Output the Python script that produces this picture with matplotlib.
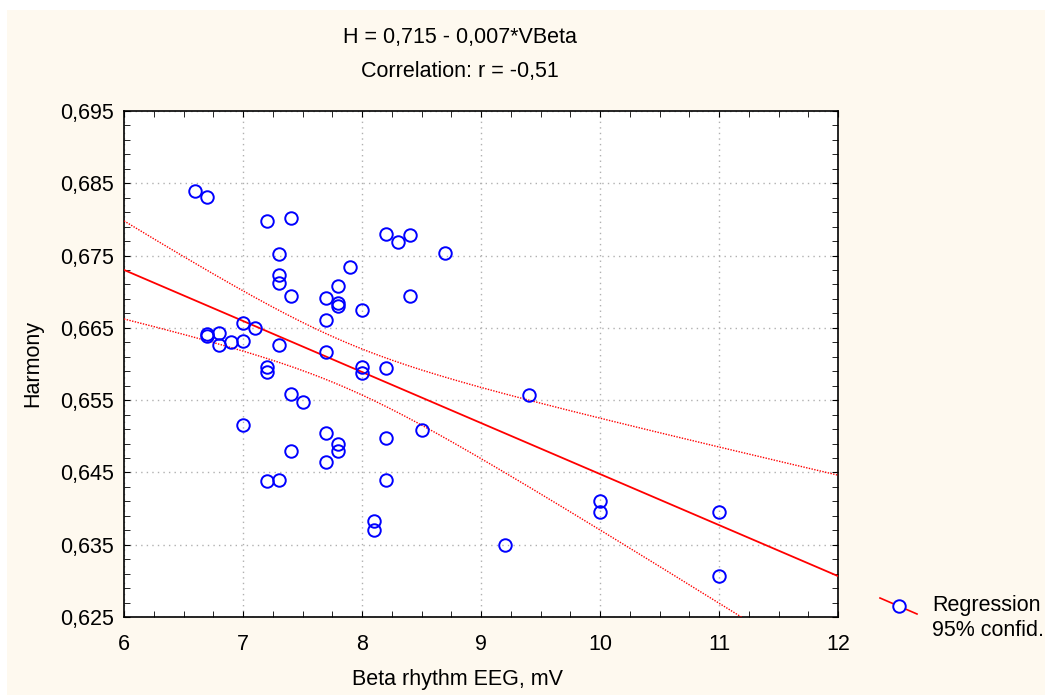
import numpy as np
import matplotlib
matplotlib.use("Agg")
import matplotlib.pyplot as plt
from matplotlib.ticker import MultipleLocator, FuncFormatter
from matplotlib.lines import Line2D
from matplotlib.patches import Rectangle

plt.rcParams['font.family'] = ['Liberation Sans', 'DejaVu Sans']

# ---- data ----
beta = [6.6, 6.7, 7.2, 7.4, 7.3, 7.3, 7.3, 7.4, 7.7, 7.8, 7.8, 7.8, 7.9, 8.0, 7.7,
        8.2, 8.3, 8.4, 8.7, 8.4, 6.7, 6.7, 6.8, 6.8, 6.9, 7.0, 7.0, 7.1, 7.2, 7.2,
        7.3, 7.7, 8.0, 8.0, 8.2, 7.4, 7.5, 9.4, 7.0, 7.7, 7.8, 7.8, 7.4, 7.7, 8.2,
        8.5, 7.2, 7.3, 8.2, 8.1, 8.1, 9.2, 10.0, 10.0, 11.0, 11.0]
harmony = [0.6840, 0.6831, 0.6798, 0.6802, 0.6752, 0.6723, 0.6712, 0.6694, 0.6691,
           0.6708, 0.6684, 0.6680, 0.6734, 0.6675, 0.6661, 0.6780, 0.6769, 0.6778,
           0.6754, 0.6694, 0.6642, 0.6639, 0.6643, 0.6626, 0.6630, 0.6632, 0.6657,
           0.6650, 0.6596, 0.6589, 0.6626, 0.6617, 0.6596, 0.6588, 0.6594, 0.6559,
           0.6547, 0.6557, 0.6516, 0.6505, 0.6489, 0.6480, 0.6480, 0.6464, 0.6498,
           0.6509, 0.6438, 0.6440, 0.6440, 0.6383, 0.6370, 0.6350, 0.6410, 0.6395,
           0.6395, 0.6307]

title_lines = ["H = 0,715 - 0,007*VBeta", "Correlation: r = -0,51"]

x = np.array(beta)
y = np.array(harmony)

# ---- regression + 95% confidence band ----
slope, intercept = np.polyfit(x, y, 1)
n = len(x)
resid = y - (intercept + slope * x)
s = np.sqrt(np.sum(resid ** 2) / (n - 2))
sxx = np.sum((x - x.mean()) ** 2)
t_crit = 2.005  # t(0.975, df ~ 54)

xs = np.linspace(6, 12, 200)
fit = intercept + slope * xs
half = t_crit * s * np.sqrt(1.0 / n + (xs - x.mean()) ** 2 / sxx)

FS = 15.5

fig = plt.figure(figsize=(10.45, 6.95), dpi=100)
fig.patch.set_facecolor('white')
fig.patches.append(Rectangle((7 / 1045, 0), 1 - 7 / 1045, 1 - 10 / 695,
                             transform=fig.transFigure, facecolor='#fef9ef',
                             edgecolor='none', zorder=-1))

ax = fig.add_axes([124 / 1045, 1 - 617 / 695, 714 / 1045, 506 / 695])
ax.set_facecolor('white')

ax.plot(xs, fit, color='red', lw=1.3, zorder=3)
ax.plot(xs, fit + half, color='red', lw=1.0, ls=(0, (1, 1)), zorder=3)
ax.plot(xs, fit - half, color='red', lw=1.0, ls=(0, (1, 1)), zorder=3)
ax.plot(x, y, 'o', ms=9, mfc='none', mec='#0000ff', mew=1.4, zorder=4)

ax.set_xlim(6, 12)
ax.set_ylim(0.625, 0.695)
ax.xaxis.set_major_locator(MultipleLocator(1))
ax.xaxis.set_minor_locator(MultipleLocator(0.25))
ax.yaxis.set_major_locator(MultipleLocator(0.01, offset=0.005))
ax.yaxis.set_minor_locator(MultipleLocator(0.002, offset=0.001))
ax.yaxis.set_major_formatter(FuncFormatter(lambda v, p: f"{v:.3f}".replace('.', ',')))
ax.xaxis.set_major_formatter(FuncFormatter(lambda v, p: f"{v:g}"))

ax.tick_params(which='both', direction='in', top=True, right=True,
               labelsize=FS, color='black', pad=7)
ax.tick_params(axis='x', which='major', pad=12)
ax.tick_params(which='major', length=4)
ax.tick_params(which='minor', length=4)
ax.grid(True, which='major', color='#b0b0b0', ls=(0, (1, 3)), lw=1.0)
for sp in ax.spines.values():
    sp.set_linewidth(1.2)

ax.set_xlabel("Beta rhythm EEG, mV", fontsize=FS)
ax.xaxis.set_label_coords((458 - 124) / 714, -(679 - 617) / 506, transform=ax.transAxes)
ax.xaxis.label.set_va('center')
ax.set_ylabel("Harmony", fontsize=FS, labelpad=12)

fig.text(460 / 1045, 1 - 37 / 695, title_lines[0], ha='center', va='center', fontsize=FS)
fig.text(460 / 1045, 1 - 72 / 695, title_lines[1], ha='center', va='center', fontsize=FS)

# legend drawn as in the original (line with circle + two text rows)
leg_line = Line2D([880 / 1045, 917 / 1045], [1 - 598 / 695, 1 - 614 / 695],
                  transform=fig.transFigure, color='red', lw=1.2)
leg_mark = Line2D([899 / 1045], [1 - 606 / 695], transform=fig.transFigure,
                  marker='o', ms=9, mfc='white', mec='#0000ff', mew=1.4)
fig.lines.extend([leg_line, leg_mark])
fig.text(932 / 1045, 1 - 606 / 695, "Regression", ha='left', va='center', fontsize=FS)
fig.text(932 / 1045, 1 - 631 / 695, "95% confid.", ha='left', va='center', fontsize=FS)

fig.savefig("out.png", dpi=100)
